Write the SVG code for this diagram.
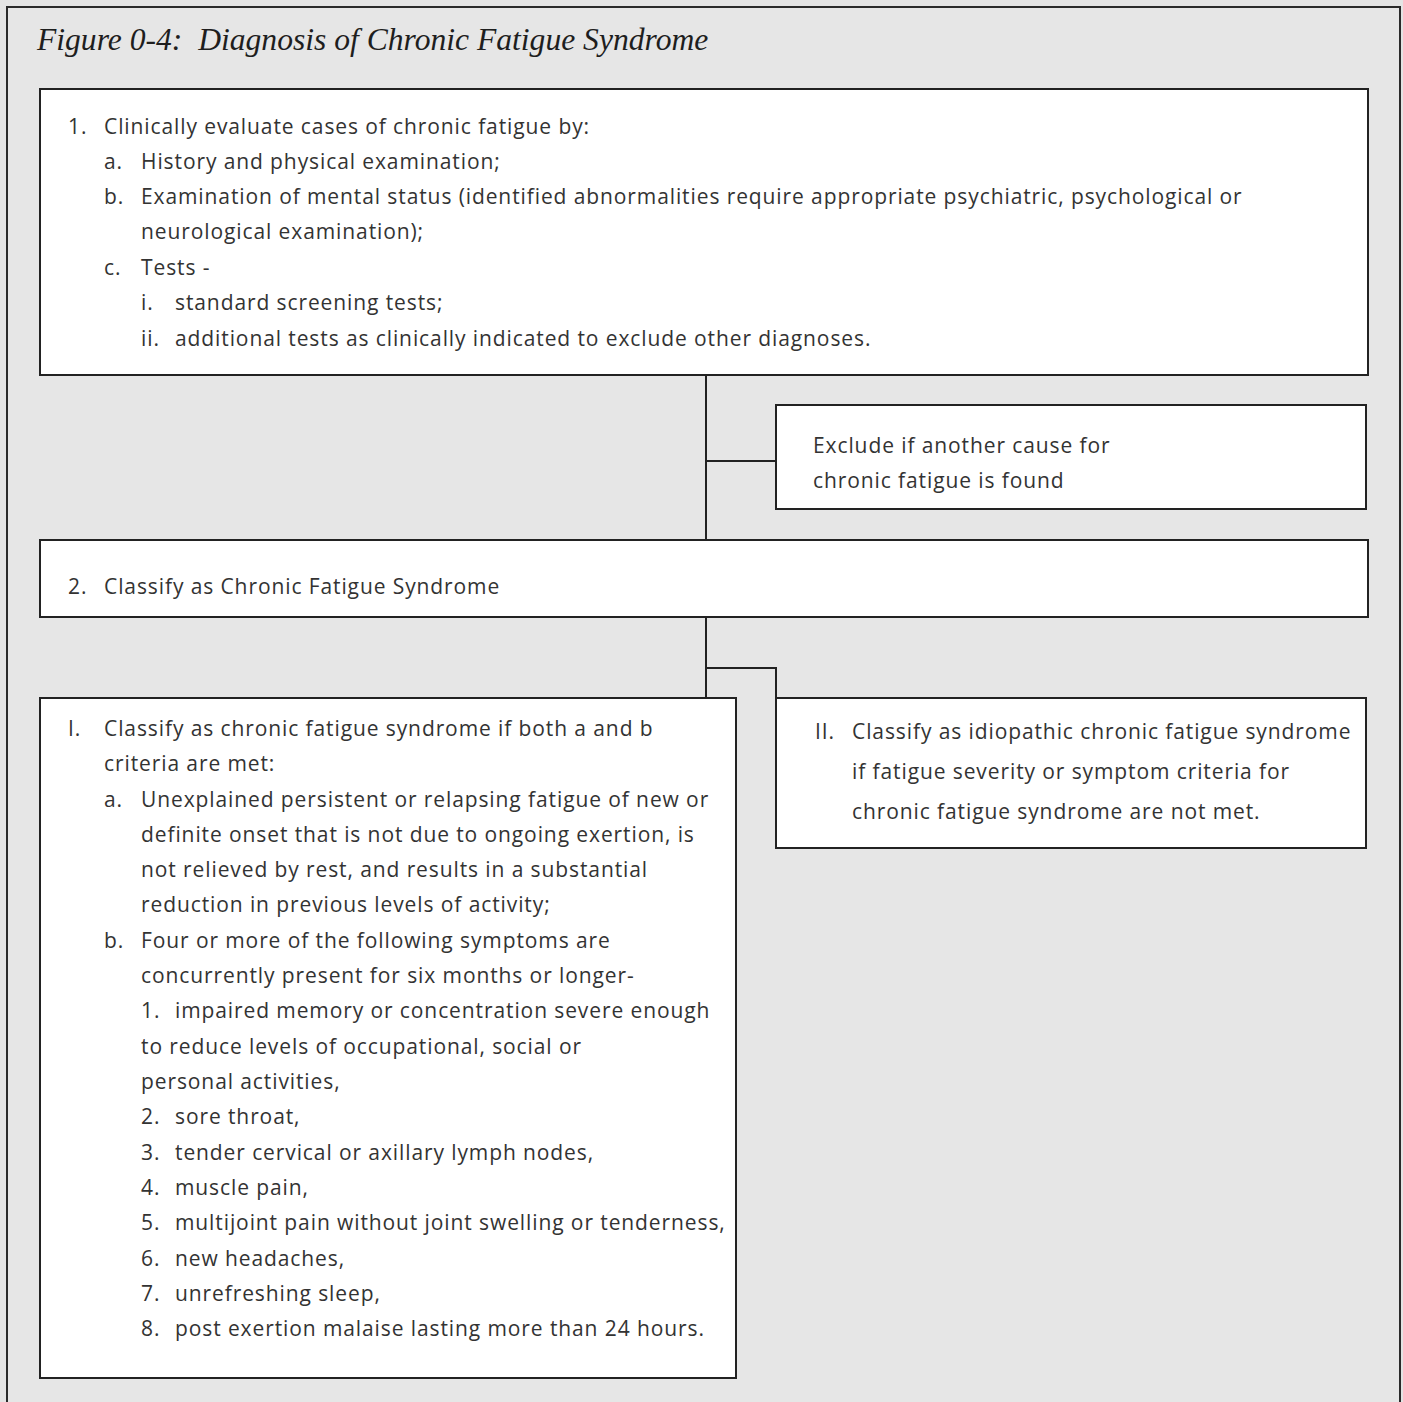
<svg xmlns="http://www.w3.org/2000/svg" width="1403" height="1402" viewBox="0 0 1403 1402">
<style>
.bg{fill:#e4e4e4}
.frame{fill:#e6e6e6;stroke:#2a2a2a;stroke-width:2}
.box{fill:#ffffff;stroke:#222;stroke-width:2}
.conn{fill:none;stroke:#222;stroke-width:2}
.t{font-family:"Open Sans","Noto Sans",sans-serif;font-size:21px;letter-spacing:0.9px;fill:#333}
.title{font-family:"Liberation Serif",serif;font-style:italic;font-size:31.6px;fill:#1e1e1e}
</style>
<rect class="bg" x="0" y="0" width="1403" height="1402"/>
<rect class="frame" x="7" y="7" width="1393" height="1410"/>
<text class="title" x="37" y="50" xml:space="preserve">Figure 0-4:  Diagnosis of Chronic Fatigue Syndrome</text>
<g id="connectors">
<path class="conn" d="M706 375 V540"/>
<path class="conn" d="M706 461 H776"/>
<path class="conn" d="M706 617 V698"/>
<path class="conn" d="M706 668 H776 V698"/>
</g>
<g id="node1">
<rect class="box" x="40" y="89" width="1328" height="286"/>
<text class="t" x="68" y="134">1.</text><text class="t" x="104" y="134">Clinically evaluate cases of chronic fatigue by:</text>
<text class="t" x="104" y="169">a.</text><text class="t" x="141" y="169">History and physical examination;</text>
<text class="t" x="104" y="204">b.</text><text class="t" x="141" y="204">Examination of mental status (identified abnormalities require appropriate psychiatric, psychological or</text>
<text class="t" x="141" y="239">neurological examination);</text>
<text class="t" x="104" y="275">c.</text><text class="t" x="141" y="275">Tests -</text>
<text class="t" x="141" y="310">i.</text><text class="t" x="175" y="310">standard screening tests;</text>
<text class="t" x="141" y="346">ii.</text><text class="t" x="175" y="346">additional tests as clinically indicated to exclude other diagnoses.</text>
</g>
<g id="exclude">
<rect class="box" x="776" y="405" width="590" height="104"/>
<text class="t" x="813" y="453">Exclude if another cause for</text>
<text class="t" x="813" y="488">chronic fatigue is found</text>
</g>
<g id="node2">
<rect class="box" x="40" y="540" width="1328" height="77"/>
<text class="t" x="68" y="594">2.</text><text class="t" x="104" y="594">Classify as Chronic Fatigue Syndrome</text>
</g>
<g id="nodeI">
<rect class="box" x="40" y="698" width="696" height="680"/>
<text class="t" x="68" y="736">I.</text><text class="t" x="104" y="736">Classify as chronic fatigue syndrome if both a and b</text>
<text class="t" x="104" y="771">criteria are met:</text>
<text class="t" x="104" y="807">a.</text><text class="t" x="141" y="807">Unexplained persistent or relapsing fatigue of new or</text>
<text class="t" x="141" y="842">definite onset that is not due to ongoing exertion, is</text>
<text class="t" x="141" y="877">not relieved by rest, and results in a substantial</text>
<text class="t" x="141" y="912">reduction in previous levels of activity;</text>
<text class="t" x="104" y="948">b.</text><text class="t" x="141" y="948">Four or more of the following symptoms are</text>
<text class="t" x="141" y="983">concurrently present for six months or longer-</text>
<text class="t" x="141" y="1018">1.</text><text class="t" x="175" y="1018">impaired memory or concentration severe enough</text>
<text class="t" x="141" y="1054">to reduce levels of occupational, social or</text>
<text class="t" x="141" y="1089">personal activities,</text>
<text class="t" x="141" y="1124">2.</text><text class="t" x="175" y="1124">sore throat,</text>
<text class="t" x="141" y="1160">3.</text><text class="t" x="175" y="1160">tender cervical or axillary lymph nodes,</text>
<text class="t" x="141" y="1195">4.</text><text class="t" x="175" y="1195">muscle pain,</text>
<text class="t" x="141" y="1230">5.</text><text class="t" x="175" y="1230">multijoint pain without joint swelling or tenderness,</text>
<text class="t" x="141" y="1266">6.</text><text class="t" x="175" y="1266">new headaches,</text>
<text class="t" x="141" y="1301">7.</text><text class="t" x="175" y="1301">unrefreshing sleep,</text>
<text class="t" x="141" y="1336">8.</text><text class="t" x="175" y="1336">post exertion malaise lasting more than 24 hours.</text>
</g>
<g id="nodeII">
<rect class="box" x="776" y="698" width="590" height="150"/>
<text class="t" x="815" y="739">II.</text><text class="t" x="852" y="739">Classify as idiopathic chronic fatigue syndrome</text>
<text class="t" x="852" y="779">if fatigue severity or symptom criteria for</text>
<text class="t" x="852" y="819">chronic fatigue syndrome are not met.</text>
</g>
</svg>
